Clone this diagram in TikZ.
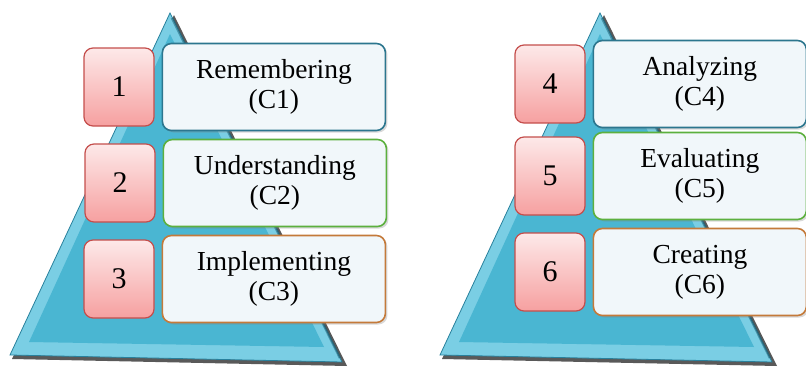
\documentclass[tikz,border=0pt]{standalone}
\usepackage{fontspec}
\setmainfont{Liberation Serif}
\usetikzlibrary{positioning,shadows}

\definecolor{pyr}{RGB}{74,182,210}
\definecolor{pyrlight}{RGB}{122,206,228}
\definecolor{pyredge}{RGB}{40,128,156}
\definecolor{numedge}{RGB}{196,78,76}
\definecolor{numtop}{RGB}{253,233,233}
\definecolor{numbot}{RGB}{246,160,160}
\definecolor{lvlone}{RGB}{44,118,142}
\definecolor{lvltwo}{RGB}{92,176,62}
\definecolor{lvlthree}{RGB}{196,122,58}
\definecolor{lblfill}{RGB}{241,247,250}

\begin{document}
\begin{tikzpicture}[x=1pt,y=-1pt,
  num/.style={draw=numedge,line width=1.2pt,rounded corners=9pt,
    top color=numtop,bottom color=numbot,minimum width=70pt,
    minimum height=78pt,inner sep=0pt,font=\fontsize{30}{32}\selectfont},
  lbl/.style={draw=#1,line width=1.6pt,rounded corners=9pt,fill=lblfill,
    minimum height=87pt,inner sep=0pt,align=center,
    font=\fontsize{27.5}{30}\selectfont,
    drop shadow={opacity=.3,shadow xshift=2pt,shadow yshift=-2pt}}]
\useasboundingbox (0,0) rectangle (806,367);

% the two pyramids
\foreach \s in {0,430}
{
\begin{scope}[xshift=\s]
 \fill[black,opacity=.65] (174,15) -- (347,366) -- (12,359) -- cycle;
 \fill[pyrlight,draw=pyredge,line width=.8pt] (170,13) -- (342,362) -- (10,355) -- cycle;
 \fill[pyr] (170,34) -- (324,347) -- (29,342) -- cycle;
 \draw[pyredge!70!black,line width=2.5pt,opacity=.5] (172,18) -- (340,358);
\end{scope}
}

% numbered steps with their levels
\foreach \i/\x/\y/\w/\word/\col in {
  1/119/87/223/Remembering/lvlone,
  2/120/183/223/Understanding/lvltwo,
  3/119/279/223/Implementing/lvlthree,
  4/550/84/213/Analyzing/lvlone,
  5/550/176/213/Evaluating/lvltwo,
  6/550/272/213/Creating/lvlthree}
{
 \node[num] (n\i) at (\x,\y) {\i};
 \node[lbl=\col,minimum width=\w pt,right=7pt of n\i] (t\i) {\word\\(C\i)};
}
\end{tikzpicture}
\end{document}
